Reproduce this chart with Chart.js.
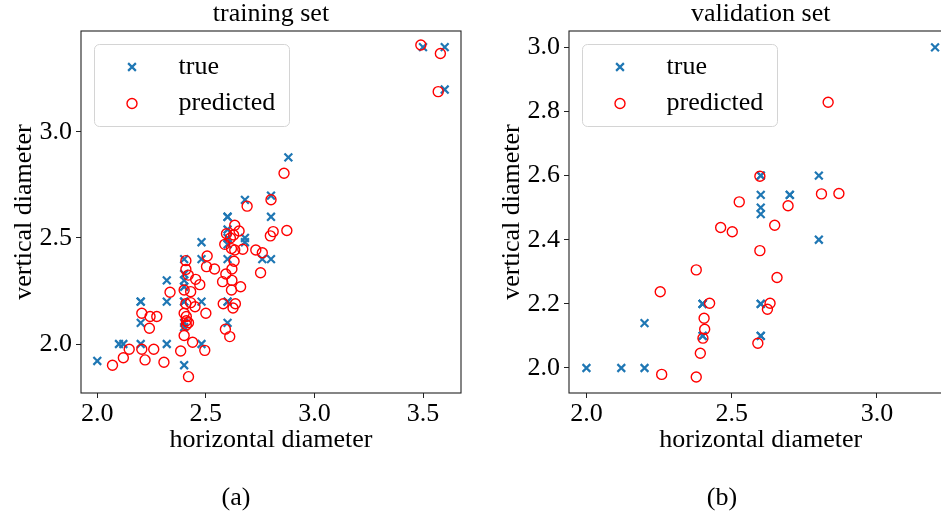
<!DOCTYPE html>
<html>
<head>
<meta charset="utf-8">
<title>training / validation scatter</title>
<script src="https://cdn.jsdelivr.net/npm/chart.js@4.4.1/dist/chart.umd.min.js"></script>
<style>
html, body { margin: 0; padding: 0; background: #fff; overflow: hidden; }
body { width: 941px; height: 517px; position: relative; }
canvas { position: absolute; top: 0; }
#trainCanvas { left: 0; }
#validCanvas { left: 470px; }
.caption {
    position: absolute; top: 482px; line-height: 30px;
    font-family: 'Liberation Serif', serif; font-size: 26px; color: #000;
    transform: translateX(-50%);
}
</style>
</head>
<body>
<canvas id="trainCanvas" width="470" height="517"></canvas>
<canvas id="validCanvas" width="491" height="517"></canvas>
<div class="caption" style="left:236px">(a)</div>
<div class="caption" style="left:722px">(b)</div>
<script>
// Dati: training set
const trainTrueX = [2.0, 2.1, 2.12, 2.2, 2.2, 2.2, 2.2, 2.32, 2.32, 2.32, 2.4, 2.4, 2.4, 2.4, 2.4, 2.4, 2.4, 2.4, 2.4,
    2.48, 2.48, 2.48, 2.48, 2.6, 2.6, 2.6, 2.6, 2.6, 2.6, 2.6, 2.6, 2.6, 2.68, 2.68, 2.68, 2.76, 2.8, 2.8, 2.8, 2.88,
    3.5, 3.6, 3.6];
const trainTrueY = [1.92, 2.0, 2.0, 2.0, 2.2, 2.2, 2.1, 2.3, 2.2, 2.0, 2.4, 2.3, 2.27, 2.33, 2.2, 2.2, 2.1, 2.08, 1.9,
    2.48, 2.4, 2.2, 2.0, 2.6, 2.6, 2.54, 2.5, 2.47, 2.4, 2.2, 2.2, 2.1, 2.68, 2.5, 2.48, 2.4, 2.4, 2.7, 2.6, 2.88,
    3.4, 3.4, 3.2];
const trainPredX = [2.07, 2.12, 2.147, 2.205, 2.22, 2.205, 2.243, 2.274, 2.24, 2.26, 2.307, 2.335, 2.384, 2.40, 2.42,
    2.439, 2.495, 2.50, 2.408, 2.408, 2.419, 2.40, 2.43, 2.408, 2.43, 2.45, 2.40, 2.41, 2.41, 2.42, 2.41, 2.453, 2.472,
    2.503, 2.506, 2.54, 2.577, 2.592, 2.618, 2.58, 2.625, 2.636, 2.66, 2.62, 2.62, 2.63, 2.59, 2.61, 2.595, 2.613,
    2.628, 2.633, 2.653, 2.587, 2.618, 2.633, 2.67, 2.69, 2.73, 2.76, 2.752, 2.797, 2.81, 2.80, 2.86, 2.873,
    3.49, 3.58, 3.57];
const trainPredY = [1.90, 1.935, 1.975, 1.975, 1.925, 2.145, 2.13, 2.13, 2.074, 1.975, 1.914, 2.244, 1.967, 2.04, 1.846,
    2.008, 1.97, 2.145, 2.393, 2.352, 2.325, 2.255, 2.247, 2.19, 2.195, 2.176, 2.145, 2.13, 2.11, 2.10, 2.09, 2.305, 2.28,
    2.365, 2.415, 2.354, 2.294, 2.33, 2.255, 2.19, 2.17, 2.19, 2.27, 2.30, 2.354, 2.39, 2.07, 2.035, 2.52, 2.50,
    2.514, 2.56, 2.533, 2.47, 2.45, 2.443, 2.447, 2.65, 2.443, 2.43, 2.336, 2.51, 2.53, 2.68, 2.805, 2.535,
    3.41, 3.37, 3.19];

// Dati: validation set
const validTrueX = [2.0, 2.12, 2.2, 2.2, 2.4, 2.4, 2.4, 2.4, 2.4, 2.6, 2.6, 2.6, 2.6, 2.6, 2.6, 2.6, 2.6, 2.6, 2.7, 2.7,
    2.8, 2.8, 3.2];
const validTrueY = [2.0, 2.0, 2.0, 2.14, 2.2, 2.2, 2.2, 2.1, 2.1, 2.6, 2.6, 2.54, 2.5, 2.48, 2.2, 2.2, 2.1, 2.1, 2.54, 2.54,
    2.6, 2.4, 3.0];
const validPredX = [2.259, 2.378, 2.392, 2.401, 2.407, 2.405, 2.424, 2.254, 2.378, 2.462, 2.502, 2.526, 2.597, 2.597,
    2.59, 2.623, 2.632, 2.648, 2.656, 2.694, 2.832, 2.809, 2.869];
const validPredY = [1.98, 1.972, 2.046, 2.093, 2.121, 2.155, 2.202, 2.238, 2.306, 2.438, 2.425, 2.518, 2.598, 2.366,
    2.077, 2.183, 2.202, 2.445, 2.282, 2.506, 2.829, 2.543, 2.544];

// Tick
const trainXTicks = [2.0, 2.5, 3.0, 3.5];
const trainYTicks = [2.0, 2.5, 3.0];
const validXTicks = [2.0, 2.5, 3.0];
const validYTicks = [2.0, 2.2, 2.4, 2.6, 2.8, 3.0];

const FONT = "'Liberation Serif', serif";
Chart.defaults.font.family = FONT;
Chart.defaults.font.size = 26;
Chart.defaults.color = '#000';

function pts(xs, ys) {
    return xs.map((x, i) => ({ x: x, y: ys[i] }));
}

// Cornice completa degli assi
const framePlugin = {
    id: 'frame',
    afterDatasetsDraw(chart) {
        const { ctx, chartArea: a } = chart;
        ctx.save();
        ctx.strokeStyle = '#222';
        ctx.lineWidth = 1.1;
        ctx.strokeRect(a.left, a.top, a.right - a.left, a.bottom - a.top);
        ctx.restore();
    }
};

// Legenda dentro l'area del grafico, stile matplotlib
const legendBoxPlugin = {
    id: 'legendBox',
    afterDatasetsDraw(chart) {
        const { ctx, chartArea: a } = chart;
        const x0 = a.left + 13.5, y0 = a.top + 13.5, w = 195, h = 82;
        ctx.save();
        ctx.beginPath();
        ctx.roundRect(x0, y0, w, h, 5);
        ctx.fillStyle = 'rgba(255,255,255,0.8)';
        ctx.fill();
        ctx.strokeStyle = '#d4d4d4';
        ctx.lineWidth = 1;
        ctx.stroke();
        chart.data.datasets.forEach((ds, i) => {
            const my = y0 + 22.5 + i * 36.5;
            ctx.strokeStyle = ds.pointBorderColor;
            ctx.fillStyle = 'rgba(0,0,0,0)';
            ctx.lineWidth = ds.pointBorderWidth;
            Chart.helpers.drawPoint(ctx, {
                pointStyle: ds.pointStyle, rotation: 0,
                radius: ds.pointRadius, borderWidth: ds.pointBorderWidth
            }, x0 + 37.5, my);
            ctx.fillStyle = '#000';
            ctx.font = '26px ' + FONT;
            ctx.textBaseline = 'middle';
            ctx.fillText(ds.label, x0 + 84, my);
        });
        ctx.restore();
    }
};

function makeChart(canvasId, cfg) {
    return new Chart(document.getElementById(canvasId), {
        type: 'scatter',
        data: {
            datasets: [{
                label: 'true',
                data: pts(cfg.trueX, cfg.trueY),
                pointStyle: 'crossRot',
                pointRadius: 5.5,
                pointHoverRadius: 5.5,
                pointBorderWidth: 2.2,
                pointBorderColor: '#1f77b4',
                pointBackgroundColor: 'rgba(0,0,0,0)',
                order: 2
            }, {
                label: 'predicted',
                data: pts(cfg.predX, cfg.predY),
                pointStyle: 'circle',
                pointRadius: 5,
                pointHoverRadius: 5,
                pointBorderWidth: 1.4,
                pointBorderColor: '#ff0000',
                pointBackgroundColor: 'rgba(0,0,0,0)',
                order: 1
            }]
        },
        options: {
            responsive: false,
            animation: false,
            layout: { padding: { left: 0, right: cfg.padRight, top: 0, bottom: 0 } },
            plugins: {
                legend: { display: false },
                tooltip: { enabled: false },
                title: {
                    display: true,
                    text: cfg.title,
                    fullSize: false,
                    color: '#000',
                    font: { size: 26, weight: 'normal', lineHeight: 1.1 },
                    padding: { top: 0, bottom: 2.4 }
                }
            },
            scales: {
                x: {
                    type: 'linear',
                    min: cfg.xMin,
                    max: cfg.xMax,
                    afterBuildTicks: s => { s.ticks = cfg.xTicks.map(v => ({ value: v })); },
                    afterFit: s => { s.height = 124; },
                    grid: { display: true, drawOnChartArea: false, drawTicks: true, tickLength: 5, color: '#222', lineWidth: 1 },
                    border: { display: false },
                    ticks: { color: '#000', padding: 1, autoSkip: false, maxRotation: 0, callback: v => Number(v).toFixed(1) },
                    title: { display: true, text: 'horizontal diameter', color: '#000', padding: { top: 0, bottom: 61 } }
                },
                y: {
                    type: 'linear',
                    min: cfg.yMin,
                    max: cfg.yMax,
                    afterBuildTicks: s => { s.ticks = cfg.yTicks.map(v => ({ value: v })); },
                    afterFit: s => { s.width = cfg.yWidth; },
                    grid: { display: true, drawOnChartArea: false, drawTicks: true, tickLength: 5, color: '#222', lineWidth: 1 },
                    border: { display: false },
                    ticks: { color: '#000', padding: 4, autoSkip: false, callback: v => Number(v).toFixed(1) },
                    title: { display: true, text: 'vertical diameter', color: '#000', padding: { top: cfg.yTitlePad, bottom: 0 } }
                }
            }
        },
        plugins: [framePlugin, legendBoxPlugin]
    });
}

makeChart('trainCanvas', {
    title: 'training set',
    trueX: trainTrueX, trueY: trainTrueY, predX: trainPredX, predY: trainPredY,
    xMin: 1.925, xMax: 3.675, yMin: 1.769, yMax: 3.476,
    xTicks: trainXTicks, yTicks: trainYTicks,
    yWidth: 81, yTitlePad: 8.4, padRight: 9
});

makeChart('validCanvas', {
    title: 'validation set',
    trueX: validTrueX, trueY: validTrueY, predX: validPredX, predY: validPredY,
    xMin: 1.94, xMax: 3.26, yMin: 1.922, yMax: 3.051,
    xTicks: validXTicks, yTicks: validYTicks,
    yWidth: 99, yTitlePad: 26.4, padRight: 8.5
});
</script>
</body>
</html>
